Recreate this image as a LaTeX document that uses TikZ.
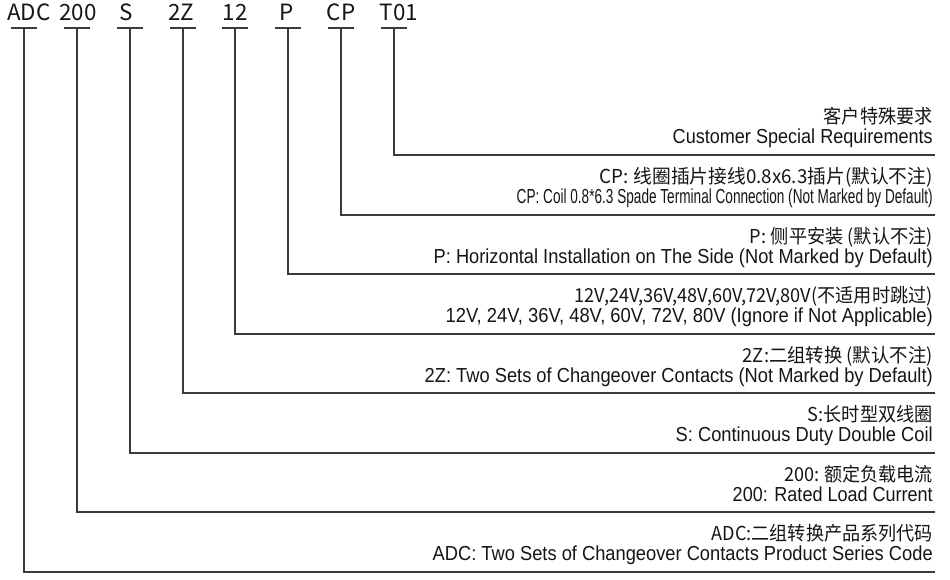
\documentclass[tikz,border=0pt]{standalone}
\usepackage{graphicx}
\usepackage{fontspec}
\setmainfont{Liberation Sans}
\newfontfamily\cjk{Noto Sans CJK SC}
\newlength\pxu \setlength\pxu{0.75pt}
\newcommand\fw[2]{\resizebox{#1\pxu}{\height}{#2}}
\newcommand\cc{:\hspace{0.25em}}
\definecolor{txt}{HTML}{151515}
\definecolor{ln}{HTML}{3A3A3A}
\begin{document}
\begin{tikzpicture}[x=0.75pt,y=-0.75pt,
  code/.style={font=\cjk\fontsize{16.8}{20}\selectfont, anchor=base, inner sep=0pt, text=txt},
  zh/.style={font=\cjk\fontsize{14.4}{16}\selectfont, anchor=base east, inner sep=0pt, text=txt},
  en/.style={font=\fontsize{15.2}{17}\selectfont, anchor=base east, inner sep=0pt, text=txt},
  lead/.style={draw=ln, line width=1.55pt}]
\useasboundingbox (0,0) rectangle (950,580);
% code letters
\node[code] (c1) at (29,21) {ADC};
\node[code] (c2) at (78,21) {200};
\node[code] (c3) at (126,21) {S};
\node[code] (c4) at (181.5,21) {2Z};
\node[code] (c5) at (235,21) {12};
\node[code] (c6) at (287,21) {P};
\node[code] (c7) at (341,21) {CP};
\node[code] (c8) at (399,21) {T01};
% leaders
\foreach \i in {1,...,8}{
  \pgfmathsetmacro\bx{24+52.86*(\i-1)}
  \pgfmathsetmacro\ry{155+59.57*(8-\i)}
  \coordinate (bl\i) at (\bx-13,28);
  \coordinate (br\i) at (\bx+13,28);
  \coordinate (t\i) at (\bx,28);
  \coordinate (e\i) at (935,\ry);
  \coordinate (zc\i) at (933,\ry-31);
  \coordinate (ec\i) at (933,\ry-11);
  \draw[lead] (bl\i) -- (br\i);
  \draw[lead] (t\i) |- (e\i);
}
% descriptions
\node[zh] (z8) at (zc8) {\fw{109}{客户特殊要求}};
\node[en] (n8) at (ec8) {\fw{260}{Customer Special Requirements}};
\node[zh] (z7) at (zc7) {\fw{333}{CP\cc 线圈插片接线0.8x6.3插片(默认不注)}};
\node[en] (n7) at (ec7) {\fw{416}{CP: Coil 0.8*6.3 Spade Terminal Connection (Not Marked by Default)}};
\node[zh] (z6) at (zc6) {\fw{183}{P\cc 侧平安装 (默认不注)}};
\node[en] (n6) at (ec6) {\fw{499}{P: Horizontal Installation on The Side (Not Marked by Default)}};
\node[zh] (z5) at (zc5) {\fw{358}{12V,24V,36V,48V,60V,72V,80V(不适用时跳过)}};
\node[en] (n5) at (ec5) {\fw{487}{12V, 24V, 36V, 48V, 60V, 72V, 80V (Ignore if Not Applicable)}};
\node[zh] (z4) at (zc4) {\fw{190}{2Z:二组转换 (默认不注)}};
\node[en] (n4) at (ec4) {\fw{508}{2Z: Two Sets of Changeover Contacts (Not Marked by Default)}};
\node[zh] (z3) at (zc3) {\fw{125}{S:长时型双线圈}};
\node[en] (n3) at (ec3) {\fw{257}{S: Continuous Duty Double Coil}};
\node[zh] (z2) at (zc2) {\fw{148}{200\cc 额定负载电流}};
\node[en] (n2) at (ec2) {\fw{200}{200: Rated Load Current}};
\node[zh] (z1) at (zc1) {\fw{221}{ADC:二组转换产品系列代码}};
\node[en] (n1) at (ec1) {\fw{500}{ADC: Two Sets of Changeover Contacts Product Series Code}};
\end{tikzpicture}
\end{document}
